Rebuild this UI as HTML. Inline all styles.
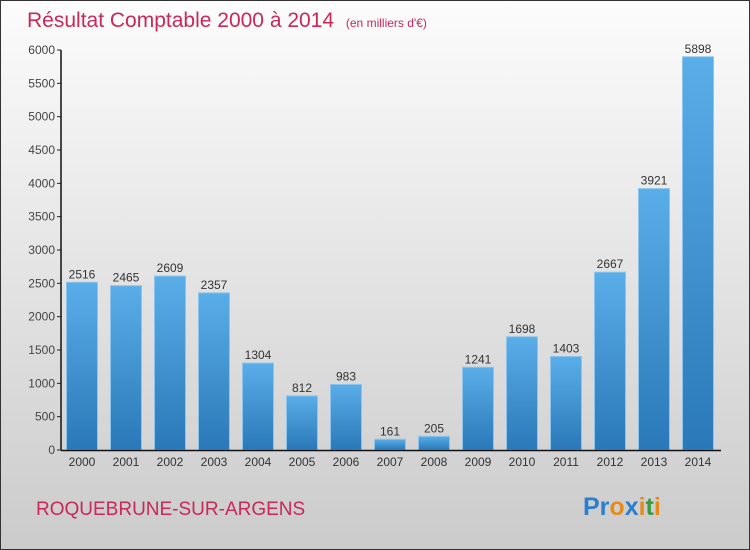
<!DOCTYPE html>
<html><head><meta charset="utf-8"><style>
body{margin:0;}
#c{position:relative;width:748px;height:548px;border:1px solid #333;background:linear-gradient(#fcfcfc,#cbcbcb);font-family:"Liberation Sans",sans-serif;overflow:hidden}
</style></head><body>
<div id="c">
<svg id="s" width="748" height="548">
<defs><linearGradient id="g" x1="0" x2="0" y1="0" y2="1"><stop offset="0" stop-color="#5aaee8"/><stop offset="1" stop-color="#2a78b8"/></linearGradient></defs>
<text x="26" y="26" font-size="21" fill="#c8285a">Résultat Comptable 2000 à 2014 <tspan font-size="12" dx="6">(en milliers d'€)</tspan></text>
<text x="35" y="514" font-size="19" fill="#c8285a">ROQUEBRUNE-SUR-ARGENS</text>
<text x="582" y="514" font-size="25" font-weight="bold"><tspan fill="#2a7fd0">Pr</tspan><tspan fill="#e88a1a">o</tspan><tspan fill="#2a7fd0">x</tspan><tspan fill="#e88a1a">i</tspan><tspan fill="#3a9a3a">t</tspan><tspan fill="#e88a1a">i</tspan></text>
<g id="plot"></g>
</svg></div>
<script>
const categories=["2000","2001","2002","2003","2004","2005","2006","2007","2008","2009","2010","2011","2012","2013","2014"];
const values=[2516,2465,2609,2357,1304,812,983,161,205,1241,1698,1403,2667,3921,5898];
const yTicks=[0,500,1000,1500,2000,2500,3000,3500,4000,4500,5000,5500,6000];
const NS="http://www.w3.org/2000/svg";
const g=document.getElementById('plot');
const y=v=>449-v*400/6000;
const x=i=>81+i*44;
function mk(t,a){const e=document.createElementNS(NS,t);for(const k in a)e.setAttribute(k,a[k]);g.appendChild(e);return e;}
yTicks.forEach(t=>{
 const l=mk('line',{x1:56,x2:60,y1:y(t),y2:y(t),stroke:'#222'});
 
 
 const tx=mk('text',{x:54,y:y(t)+4,'text-anchor':'end','font-size':12,fill:'#444'});
 tx.textContent=t;
 
 
});
values.forEach((v,i)=>{
 const r=mk('rect',{x:x(i)-15.5,y:y(v),width:31,height:449-y(v),fill:'url(#g)',stroke:'#8cc4ee','stroke-width':1});
 
 
 const t=mk('text',{x:x(i),y:y(v)-4,'text-anchor':'middle','font-size':12,fill:'#333'});
 t.textContent=v;
 
 
 const c=mk('text',{x:x(i),y:465,'text-anchor':'middle','font-size':12,fill:'#333'});
 c.textContent=categories[i];
 
 
});
const ya=mk('line',{x1:60,x2:60,y1:y(6000),y2:449.5,stroke:'#111','stroke-width':1.5});


const xa=mk('line',{x1:60,x2:720,y1:449.5,y2:449.5,stroke:'#111','stroke-width':1.5});


</script>
</body></html>
